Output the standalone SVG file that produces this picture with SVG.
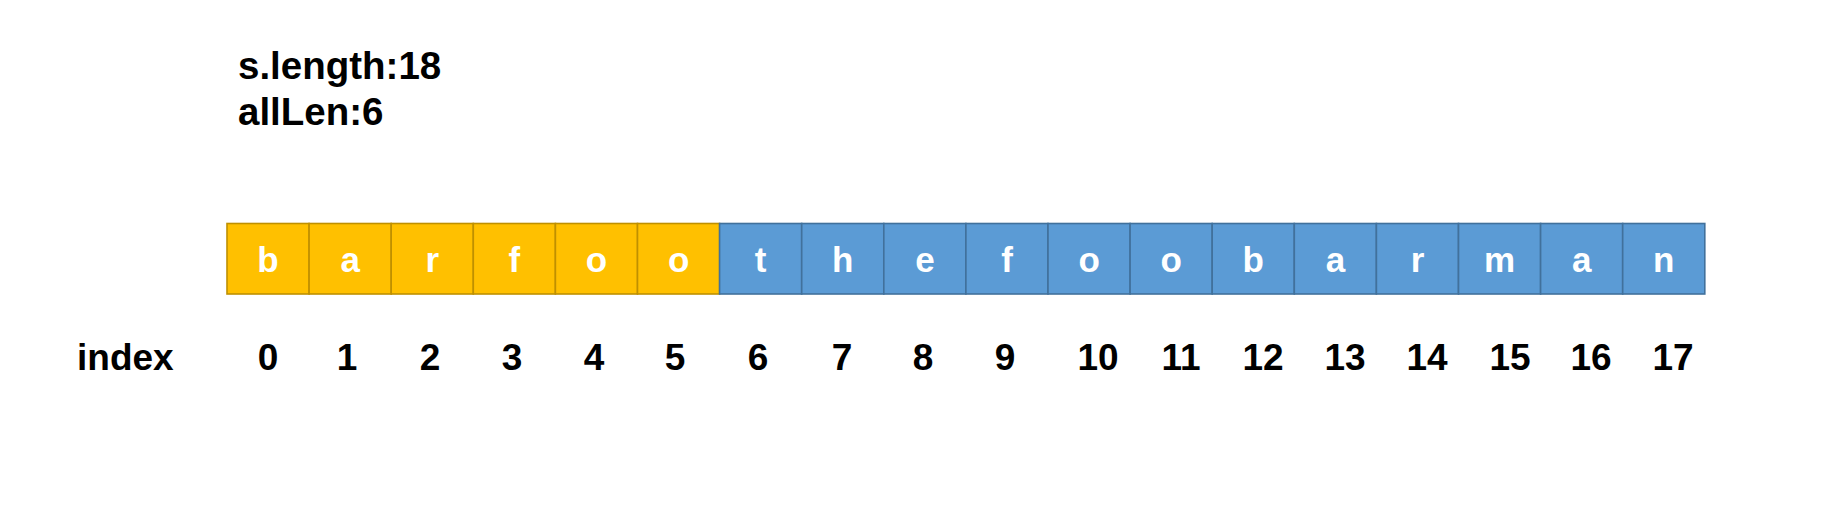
<svg xmlns="http://www.w3.org/2000/svg" width="1834" height="516" viewBox="0 0 1834 516">
<style>
.t{font-family:"Liberation Sans",Arial,sans-serif;font-weight:bold;fill:#000}
.h{font-size:38.5px}
.i{font-size:37px;text-anchor:middle}
.c{font-family:"Liberation Sans",Arial,sans-serif;font-weight:bold;font-size:35px;fill:#fff;text-anchor:middle}
.o rect{fill:#FFC000;stroke:#BF9000;stroke-width:1.6}
.b rect{fill:#5B9BD5;stroke:#41719C;stroke-width:1.6}
</style>
<rect width="1834" height="516" fill="#fff"/>
<text class="t h" x="238" y="79">s.length:18</text>
<text class="t h" x="238" y="125">allLen:6</text>
<g id="cells">
<g id="c0" class="o"><rect x="227" y="223.5" width="82.1" height="70.5"/><text class="c" x="268" y="272">b</text></g>
<g id="c1" class="o"><rect x="309.1" y="223.5" width="82.1" height="70.5"/><text class="c" x="350.2" y="272">a</text></g>
<g id="c2" class="o"><rect x="391.2" y="223.5" width="82.1" height="70.5"/><text class="c" x="432.3" y="272">r</text></g>
<g id="c3" class="o"><rect x="473.3" y="223.5" width="82.1" height="70.5"/><text class="c" x="514.4" y="272">f</text></g>
<g id="c4" class="o"><rect x="555.4" y="223.5" width="82.1" height="70.5"/><text class="c" x="596.5" y="272">o</text></g>
<g id="c5" class="o"><rect x="637.5" y="223.5" width="82.1" height="70.5"/><text class="c" x="678.6" y="272">o</text></g>
<g id="c6" class="b"><rect x="719.6" y="223.5" width="82.1" height="70.5"/><text class="c" x="760.7" y="272">t</text></g>
<g id="c7" class="b"><rect x="801.7" y="223.5" width="82.1" height="70.5"/><text class="c" x="842.8" y="272">h</text></g>
<g id="c8" class="b"><rect x="883.8" y="223.5" width="82.1" height="70.5"/><text class="c" x="924.9" y="272">e</text></g>
<g id="c9" class="b"><rect x="965.9" y="223.5" width="82.1" height="70.5"/><text class="c" x="1007" y="272">f</text></g>
<g id="c10" class="b"><rect x="1048" y="223.5" width="82.1" height="70.5"/><text class="c" x="1089.1" y="272">o</text></g>
<g id="c11" class="b"><rect x="1130.1" y="223.5" width="82.1" height="70.5"/><text class="c" x="1171.2" y="272">o</text></g>
<g id="c12" class="b"><rect x="1212.2" y="223.5" width="82.1" height="70.5"/><text class="c" x="1253.3" y="272">b</text></g>
<g id="c13" class="b"><rect x="1294.3" y="223.5" width="82.1" height="70.5"/><text class="c" x="1335.4" y="272">a</text></g>
<g id="c14" class="b"><rect x="1376.4" y="223.5" width="82.1" height="70.5"/><text class="c" x="1417.5" y="272">r</text></g>
<g id="c15" class="b"><rect x="1458.5" y="223.5" width="82.1" height="70.5"/><text class="c" x="1499.6" y="272">m</text></g>
<g id="c16" class="b"><rect x="1540.6" y="223.5" width="82.1" height="70.5"/><text class="c" x="1581.7" y="272">a</text></g>
<g id="c17" class="b"><rect x="1622.7" y="223.5" width="82.1" height="70.5"/><text class="c" x="1663.8" y="272">n</text></g>
</g>
<g id="connectors"/>
<g id="index">
<text class="t" style="font-size:37px" x="77" y="370">index</text>
<text class="t i" x="268" y="370">0</text>
<text class="t i" x="347" y="370">1</text>
<text class="t i" x="430" y="370">2</text>
<text class="t i" x="512" y="370">3</text>
<text class="t i" x="594" y="370">4</text>
<text class="t i" x="675" y="370">5</text>
<text class="t i" x="758" y="370">6</text>
<text class="t i" x="842" y="370">7</text>
<text class="t i" x="923" y="370">8</text>
<text class="t i" x="1005" y="370">9</text>
<text class="t i" x="1098" y="370">10</text>
<text class="t i" x="1181" y="370">11</text>
<text class="t i" x="1263" y="370">12</text>
<text class="t i" x="1345" y="370">13</text>
<text class="t i" x="1427" y="370">14</text>
<text class="t i" x="1510" y="370">15</text>
<text class="t i" x="1591" y="370">16</text>
<text class="t i" x="1673" y="370">17</text>
</g>
</svg>
